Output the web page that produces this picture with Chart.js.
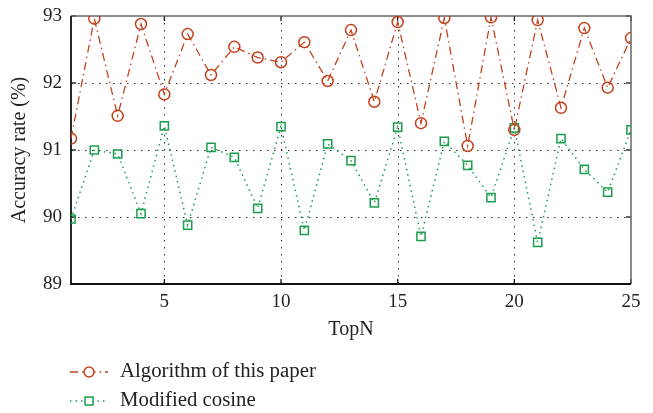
<!DOCTYPE html>
<html>
<head>
<meta charset="utf-8">
<script src="https://cdn.jsdelivr.net/npm/chart.js@4/dist/chart.umd.min.js"></script>
<style>
  html, body { margin: 0; padding: 0; background: #fff; }
  #wrap { width: 653px; height: 413px; position: relative; }
</style>
</head>
<body>
<div id="wrap"><canvas id="chart" width="653" height="413"></canvas></div>
<script>
const topN = [1, 2, 3, 4, 5, 6, 7, 8, 9, 10, 11, 12, 13, 14, 15, 16, 17, 18, 19, 20, 21, 22, 23, 24, 25];
const accPaper = [91.17, 92.96, 91.51, 92.88, 91.83, 92.73, 92.12, 92.54, 92.38, 92.31, 92.61, 92.03, 92.79,
  91.72, 92.91, 91.40, 92.97, 91.06, 92.98, 91.30, 92.94, 91.63, 92.82, 91.93, 92.67];
const accCosine = [89.97, 91.00, 90.94, 90.05, 91.36, 89.88, 91.04, 90.89, 90.13, 91.35, 89.80, 91.09, 90.84,
  90.21, 91.34, 89.71, 91.13, 90.77, 90.29, 91.33, 89.62, 91.17, 90.71, 90.37, 91.30];
const xTicks = [5, 10, 15, 20, 25];
const yTicks = [89, 90, 91, 92, 93];
const seriesNames = ['Algorithm of this paper', 'Modified cosine'];

const RED = '#c2411c';
const GREEN = '#1a9e4e';
const SERIF = '"Liberation Serif", "DejaVu Serif", serif';

// frame, dotted grid and inward ticks
const framePlugin = {
  id: 'frame',
  beforeDatasetsDraw(chart) {
    const { ctx, chartArea: a, scales: { x, y } } = chart;
    ctx.save();
    ctx.strokeStyle = '#333';
    ctx.lineWidth = 1;
    ctx.setLineDash([1.5, 5.5]);
    xTicks.slice(0, -1).forEach(v => {
      const px = Math.round(x.getPixelForValue(v)) + 0.5;
      ctx.beginPath(); ctx.moveTo(px, a.top); ctx.lineTo(px, a.bottom); ctx.stroke();
    });
    yTicks.slice(1, -1).forEach(v => {
      const py = Math.round(y.getPixelForValue(v)) + 0.5;
      ctx.beginPath(); ctx.moveTo(a.left, py); ctx.lineTo(a.right, py); ctx.stroke();
    });
    ctx.setLineDash([]);
    // inward tick marks
    ctx.strokeStyle = '#000';
    ctx.lineWidth = 1.2;
    xTicks.forEach(v => {
      const px = x.getPixelForValue(v);
      ctx.beginPath(); ctx.moveTo(px, a.bottom); ctx.lineTo(px, a.bottom - 5); ctx.stroke();
      ctx.beginPath(); ctx.moveTo(px, a.top); ctx.lineTo(px, a.top + 5); ctx.stroke();
    });
    yTicks.forEach(v => {
      const py = y.getPixelForValue(v);
      ctx.beginPath(); ctx.moveTo(a.left, py); ctx.lineTo(a.left + 5, py); ctx.stroke();
      ctx.beginPath(); ctx.moveTo(a.right, py); ctx.lineTo(a.right - 5, py); ctx.stroke();
    });
    // top and right border grey, left and bottom black
    ctx.strokeStyle = '#666';
    ctx.lineWidth = 1.5;
    ctx.beginPath(); ctx.moveTo(a.left, a.top); ctx.lineTo(a.right, a.top); ctx.lineTo(a.right, a.bottom); ctx.stroke();
    ctx.strokeStyle = '#111';
    ctx.lineWidth = 1.8;
    ctx.beginPath(); ctx.moveTo(a.left, a.top); ctx.lineTo(a.left, a.bottom); ctx.lineTo(a.right, a.bottom); ctx.stroke();
    ctx.restore();
  }
};

// vertical legend under the axis
const legendPlugin = {
  id: 'sideLegend',
  afterDraw(chart) {
    const { ctx } = chart;
    ctx.save();
    chart.data.datasets.forEach((ds, i) => {
      const yy = 372 + i * 29;
      ctx.strokeStyle = ds.borderColor;
      ctx.lineWidth = ds.borderWidth;
      ctx.setLineDash(ds.borderDash);
      ctx.beginPath(); ctx.moveTo(70, yy); ctx.lineTo(108, yy); ctx.stroke();
      ctx.setLineDash([]);
      ctx.lineWidth = ds.pointBorderWidth;
      ctx.fillStyle = '#fff';
      ctx.beginPath();
      if (ds.pointStyle === 'circle') ctx.arc(89, yy, 5, 0, Math.PI * 2);
      else ctx.rect(85, yy - 4, 8, 8);
      ctx.fill(); ctx.stroke();
      ctx.fillStyle = '#222';
      ctx.font = '20.8px ' + SERIF;
      ctx.textBaseline = 'middle';
      ctx.fillText(ds.label, 120, yy);
    });
    ctx.restore();
  }
};

const mk = (vals) => vals.map((v, i) => ({ x: topN[i], y: v }));

new Chart(document.getElementById('chart'), {
  type: 'line',
  data: {
    datasets: [
      {
        label: seriesNames[0], data: mk(accPaper),
        borderColor: RED, borderWidth: 1.3, borderDash: [8, 4, 1.5, 4],
        pointStyle: 'circle', pointRadius: 5.5, pointBorderWidth: 1.5,
        pointBorderColor: RED, pointBackgroundColor: 'rgba(0,0,0,0)', tension: 0
      },
      {
        label: seriesNames[1], data: mk(accCosine),
        borderColor: GREEN, borderWidth: 1.5, borderDash: [1.5, 4],
        pointStyle: 'rect', pointRadius: 5.8, pointBorderWidth: 1.5,
        pointBorderColor: GREEN, pointBackgroundColor: 'rgba(0,0,0,0)', tension: 0
      }
    ]
  },
  options: {
    responsive: false,
    animation: false,
    layout: { padding: { top: 16, right: 22, bottom: 69, left: 0 } },
    plugins: { legend: { display: false }, tooltip: { enabled: false } },
    scales: {
      x: {
        type: 'linear', min: 1, max: 25,
        afterBuildTicks: s => { s.ticks = xTicks.map(v => ({ value: v })); },
        afterFit: s => { s.height = 60; s.paddingLeft = 0; s.paddingRight = 0; },
        grid: { display: false, drawTicks: false },
        border: { display: false },
        ticks: { padding: 7, color: '#222', font: { family: SERIF, size: 19 }, maxRotation: 0 },
        title: { display: true, text: 'TopN', color: '#222', font: { family: SERIF, size: 20 }, padding: { top: 0, bottom: 2 } }
      },
      y: {
        min: 89, max: 93,
        afterBuildTicks: s => { s.ticks = yTicks.map(v => ({ value: v })); },
        afterFit: s => { s.width = 71; s.paddingTop = 0; s.paddingBottom = 0; },
        grid: { display: false, drawTicks: false },
        border: { display: false },
        ticks: { padding: 9, color: '#222', font: { family: SERIF, size: 19 } },
        title: { display: true, text: 'Accuracy rate (%)', color: '#222', font: { family: SERIF, size: 20 }, padding: { top: 8, bottom: 0 } }
      }
    }
  },
  plugins: [framePlugin, legendPlugin]
});
</script>
</body>
</html>
